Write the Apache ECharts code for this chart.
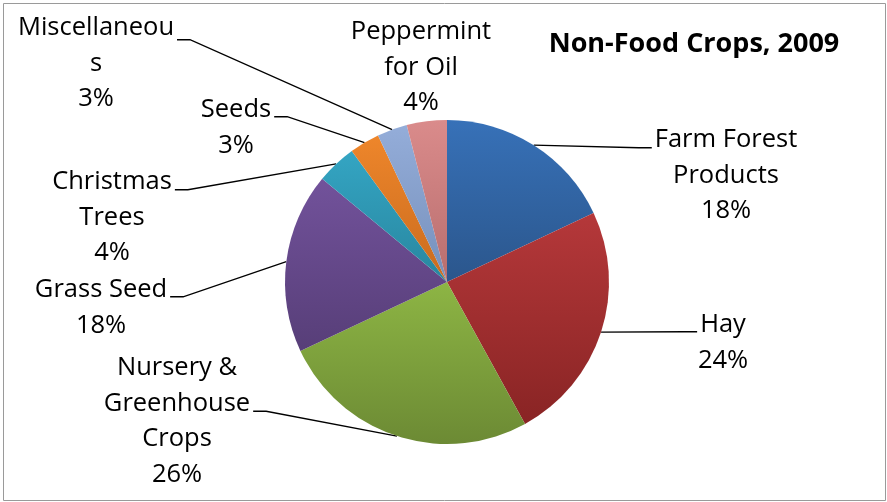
<!DOCTYPE html>
<html>
<head>
<meta charset="utf-8">
<title>Non-Food Crops, 2009</title>
<script src="https://cdn.jsdelivr.net/npm/echarts@6/dist/echarts.min.js"></script>
<style>
    html, body { margin: 0; padding: 0; background: #fff; }
    #main { width: 887px; height: 502px; }
</style>
</head>
<body>
<div id="main"></div>
<script>
'use strict';

// chart data
var categories = ['Farm Forest Products', 'Hay', 'Nursery & Greenhouse Crops', 'Grass Seed',
    'Christmas Trees', 'Seeds', 'Miscellaneous', 'Peppermint for Oil'];
// label text as it wraps in the original
var labelNames = ['Farm Forest\nProducts', 'Hay', 'Nursery &\nGreenhouse\nCrops', 'Grass Seed',
    'Christmas\nTrees', 'Seeds', 'Miscellaneou\ns', 'Peppermint\nfor Oil'];
var shares = [18, 24, 26, 18, 4, 3, 3, 4];

var topColors = ['#3771b8', '#b5383a', '#8db544', '#72529b', '#34a5c3', '#ee862b', '#94add9', '#da8b8b'];
var bottomColors = ['#2b568c', '#892424', '#6c8a34', '#573e78', '#28869f', '#c96b1e', '#7690bb', '#b86e6e'];

var fontFamily = '"Open Sans", Lato, sans-serif';
var fontSize = 25.5;
var lineH = 35.5;

// where each label sits: centre x, top y, the line the leader attaches to, side of the pie
var labelSpots = [
    {x: 726, y: 122, line: 0, side: 'right', drop: 8},
    {x: 723, y: 307, line: 0, side: 'right', drop: 7},
    {x: 177, y: 350, line: 1, side: 'left', drop: 8},
    {x: 101, y: 272, line: 0, side: 'left', drop: 7},
    {x: 112, y: 164, line: 0, side: 'left', drop: 8},
    {x: 236, y: 92, line: 0, side: 'left', drop: 7},
    {x: 96, y: 10, line: 0, side: 'left', drop: 12},
    {x: 421, y: 14, line: 0, side: 'none', drop: 0}
];

var measureCtx = document.createElement('canvas').getContext('2d');
function textWidth(str) {
    measureCtx.font = fontSize + 'px ' + fontFamily;
    return measureCtx.measureText(str).width;
}

var pieData = categories.map(function(name, i) {
    var item = {
        name: name,
        value: shares[i],
        itemStyle: {
            color: new echarts.graphic.LinearGradient(0, 0, 0, 1, [
                {offset: 0, color: topColors[i]},
                {offset: 1, color: bottomColors[i]}
            ])
        }
    };
    if (labelSpots[i].side === 'none') {
        item.labelLine = {show: false};
    }
    return item;
});

var myChart = echarts.init(document.getElementById('main'));
var option = {
    animation: false,
    title: {
        text: 'Non-Food Crops, 2009',
        left: 689,
        top: 26,
        textAlign: 'center',
        textStyle: {
            fontFamily: fontFamily,
            fontSize: 27,
            fontWeight: 'bold',
            color: '#000'
        }
    },
    graphic: [{
        type: 'rect',
        silent: true,
        shape: {x: 3.5, y: 3.5, width: 882, height: 497},
        style: {fill: 'none', stroke: '#9a9a9a', lineWidth: 1}
    }],
    series: [{
        type: 'pie',
        center: [447, 282],
        radius: 162,
        startAngle: 90,
        clockwise: true,
        avoidLabelOverlap: false,
        data: pieData,
        label: {
            show: true,
            position: 'outside',
            color: '#000',
            fontFamily: fontFamily,
            fontSize: fontSize,
            lineHeight: lineH,
            formatter: function(params) {
                return labelNames[params.dataIndex] + '\n' + Math.round(params.percent) + '%';
            }
        },
        labelLine: {
            show: true,
            smooth: false,
            length: 20,
            length2: 20,
            lineStyle: {color: '#000', width: 1.3}
        },
        labelLayout: function(params) {
            var spot = labelSpots[params.dataIndex];
            var res = {x: spot.x, y: spot.y, align: 'center', verticalAlign: 'top'};
            if (spot.side !== 'none' && params.labelLinePoints) {
                var lines = labelNames[params.dataIndex].split('\n');
                var w = textWidth(lines[spot.line]);
                var ly = spot.y + lineH * spot.line + lineH / 2 + spot.drop;
                var ex = spot.side === 'left' ? spot.x + w / 2 + 3 : spot.x - w / 2 - 3;
                var bx = spot.side === 'left' ? ex + 13 : ex - 13;
                res.labelLinePoints = [params.labelLinePoints[0], [bx, ly], [ex, ly]];
            }
            return res;
        }
    }]
};
myChart.setOption(option);
</script>
</body>
</html>
